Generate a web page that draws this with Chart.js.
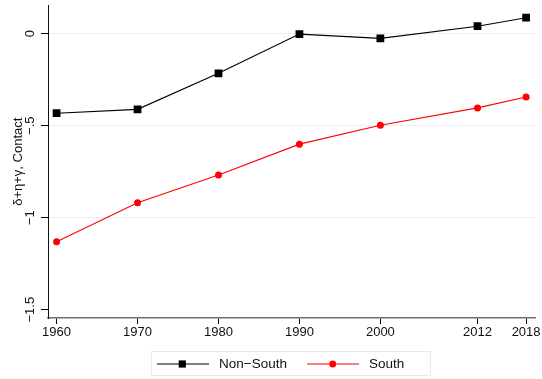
<!DOCTYPE html>
<html>
<head>
<meta charset="utf-8">
<script src="https://cdn.jsdelivr.net/npm/chart.js@4/dist/chart.umd.min.js"></script>
<style>
  html, body { margin: 0; padding: 0; background: #ffffff; }
  #wrap { width: 542px; height: 379px; }
</style>
</head>
<body>
<div id="wrap"><canvas id="c" width="542" height="379"></canvas></div>
<script>
// Survey years (x positions are the years themselves, so 2012/2018 sit closer together)
const years = [1960, 1970, 1980, 1990, 2000, 2012, 2018];

// Estimated δ+η+γ contact effects by region
const nonSouth = [-0.432, -0.411, -0.215, -0.002, -0.025, 0.041, 0.087];
const south    = [-1.130, -0.919, -0.768, -0.600, -0.497, -0.403, -0.344];

// Axis tick values and their printed labels
const yTicks = [-1.5, -1, -0.5, 0];
const yTickLabels = ['\u22121.5', '\u22121', '\u2212.5', '0'];
const xTicks = years;

const seriesNames = ['Non\u2212South', 'South'];
const yTitle = '\u03b4+\u03b7+\u03b3, Contact';

const FONT = '"Liberation Sans", Arial, Helvetica, sans-serif';

const pairs = (xs, ys) => xs.map((x, i) => ({ x: x, y: ys[i] }));

// Rotated y tick labels, rotated y title and boxed legend
const decorations = {
  id: 'decorations',
  afterDraw(chart) {
    const ctx = chart.ctx;
    const ys = chart.scales.y;
    const area = chart.chartArea;

    ctx.save();
    ctx.fillStyle = '#111111';
    ctx.font = '13px ' + FONT;
    ctx.textAlign = 'center';
    ctx.textBaseline = 'alphabetic';
    yTicks.forEach((v, i) => {
      const py = ys.getPixelForValue(v);
      ctx.save();
      ctx.translate(34, py);
      ctx.rotate(-Math.PI / 2);
      ctx.fillText(yTickLabels[i], 0, 0);
      ctx.restore();
    });

    // axis title
    ctx.save();
    ctx.translate(21.5, (area.top + area.bottom) / 2);
    ctx.rotate(-Math.PI / 2);
    ctx.fillText(yTitle, 0, 0);
    ctx.restore();

    // legend
    ctx.strokeStyle = '#e2ebed';
    ctx.lineWidth = 1;
    ctx.strokeRect(151.5, 351.5, 279, 24);

    const ly = 364;
    const ds = chart.data.datasets;

    ctx.lineWidth = 1.1;
    ctx.strokeStyle = ds[0].borderColor;
    ctx.beginPath();
    ctx.moveTo(157, ly); ctx.lineTo(209, ly);
    ctx.stroke();
    ctx.fillStyle = ds[0].pointBackgroundColor;
    ctx.fillRect(182.3 - 3.6, ly - 3.6, 7.2, 7.2);

    ctx.strokeStyle = ds[1].borderColor;
    ctx.beginPath();
    ctx.moveTo(307, ly); ctx.lineTo(359, ly);
    ctx.stroke();
    ctx.fillStyle = ds[1].pointBackgroundColor;
    ctx.beginPath();
    ctx.arc(332.7, ly, 3.5, 0, Math.PI * 2);
    ctx.fill();

    ctx.fillStyle = '#111111';
    ctx.textAlign = 'left';
    ctx.textBaseline = 'middle';
    ctx.font = '13.5px ' + FONT;
    ctx.fillText(seriesNames[0], 219, ly + 0.5);
    ctx.fillText(seriesNames[1], 369, ly + 0.5);
    ctx.restore();
  }
};

new Chart(document.getElementById('c'), {
  type: 'line',
  data: {
    datasets: [
      {
        label: seriesNames[0],
        data: pairs(years, nonSouth),
        borderColor: '#000000',
        borderWidth: 1.1,
        pointStyle: 'rect',
        pointRadius: 5.5,
        pointBackgroundColor: '#000000',
        pointBorderWidth: 0,
        tension: 0
      },
      {
        label: seriesNames[1],
        data: pairs(years, south),
        borderColor: '#ff0000',
        borderWidth: 1.1,
        pointStyle: 'circle',
        pointRadius: 3.5,
        pointBackgroundColor: '#ff0000',
        pointBorderWidth: 0,
        tension: 0
      }
    ]
  },
  options: {
    responsive: false,
    animation: false,
    devicePixelRatio: 1,
    layout: { padding: { left: 0, right: 7, top: 5, bottom: 0 } },
    plugins: {
      legend: { display: false },
      tooltip: { enabled: false }
    },
    scales: {
      x: {
        type: 'linear',
        min: 1958.94,
        max: 2019.1,
        afterBuildTicks: (s) => { s.ticks = xTicks.map(v => ({ value: v })); },
        afterFit: (s) => { s.height = 61; s.paddingLeft = 0; s.paddingRight = 0; },
        ticks: {
          callback: (v) => String(v),
          color: '#111111',
          font: { family: FONT, size: 13 },
          padding: 1,
          maxRotation: 0,
          autoSkip: false
        },
        grid: {
          drawOnChartArea: false,
          drawTicks: true,
          tickLength: 6,
          tickColor: '#000000',
          tickWidth: 1
        },
        border: { display: true, color: '#6e6e6e', width: 1.5 }
      },
      y: {
        type: 'linear',
        min: -1.545,
        max: 0.1535,
        afterBuildTicks: (s) => { s.ticks = yTicks.map(v => ({ value: v })); },
        afterFit: (s) => { s.width = 48; s.paddingTop = 0; s.paddingBottom = 0; },
        ticks: { display: false },
        grid: {
          drawOnChartArea: true,
          drawTicks: true,
          tickLength: 7,
          color: (c) => (c.tick && c.tick.value === -1.5) ? 'rgba(0,0,0,0)' : '#e8f0f1',
          lineWidth: 1,
          tickColor: '#000000'
        },
        border: { display: true, color: '#111111', width: 1 }
      }
    }
  },
  plugins: [decorations]
});
</script>
</body>
</html>
